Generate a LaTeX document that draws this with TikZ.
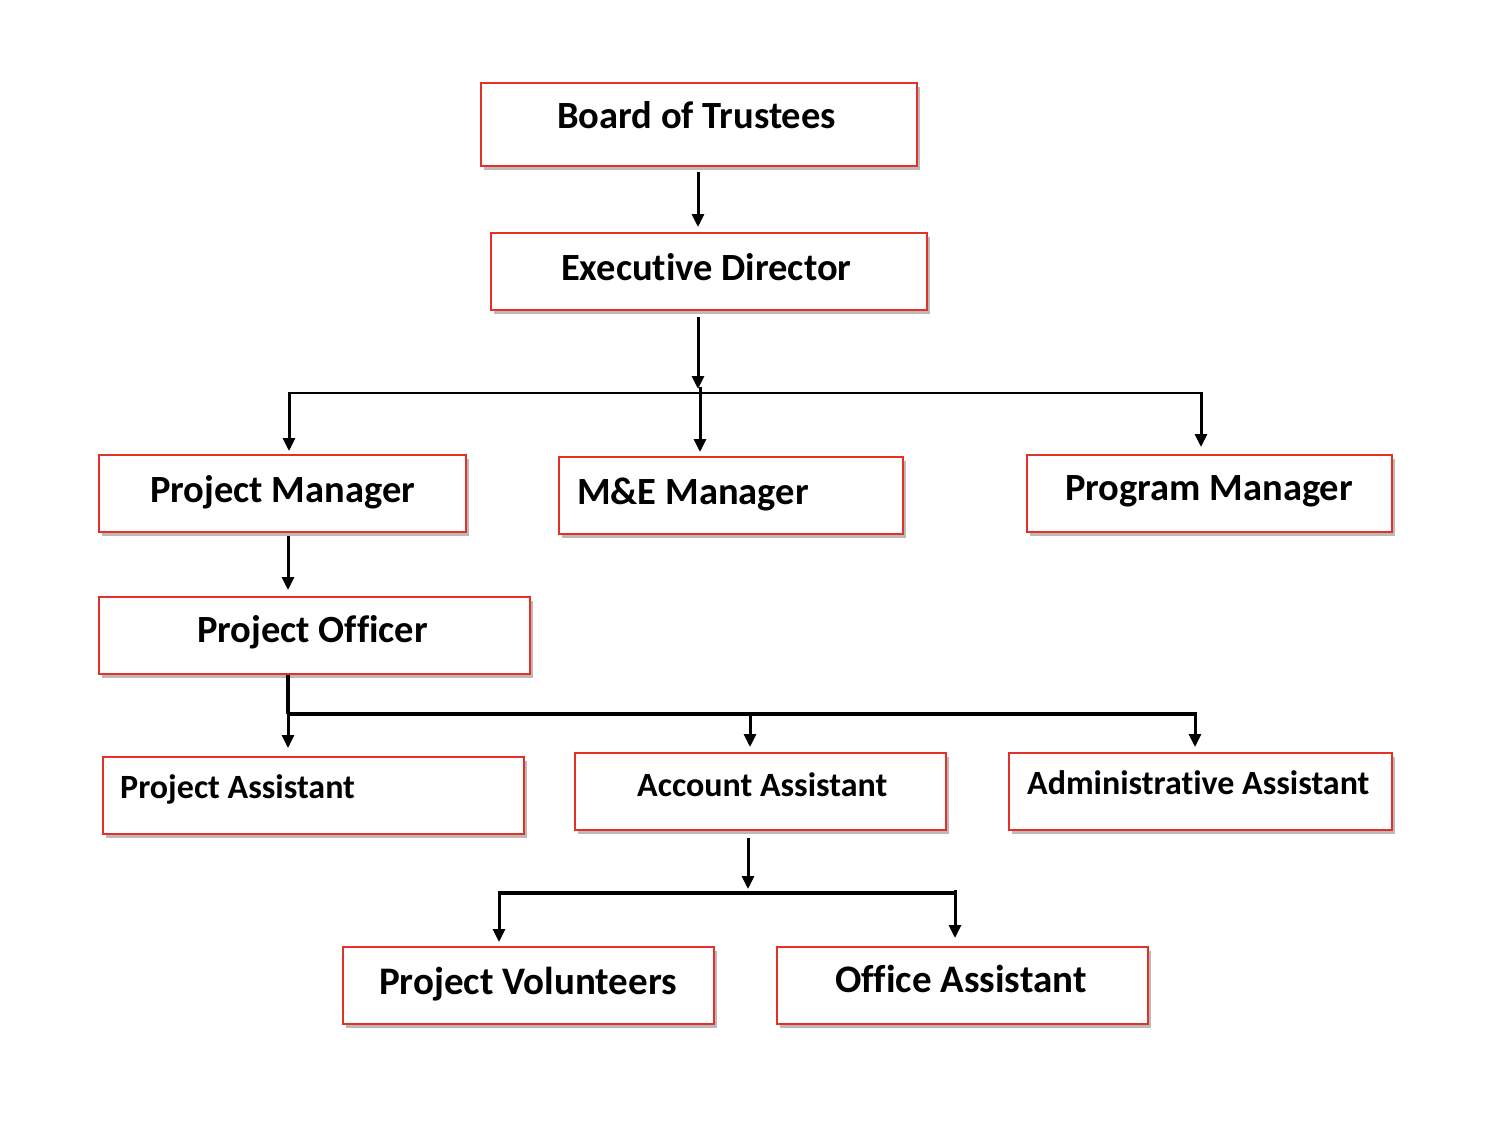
\documentclass[tikz,border=0pt]{standalone}
\usepackage{fontspec}
\setmainfont[Ligatures=NoCommon]{Carlito}
\usetikzlibrary{arrows.meta,shadows}
\definecolor{boxred}{RGB}{228,48,38}
\tikzset{
  box/.style={draw=boxred, line width=2pt, fill=white, inner sep=0pt,
    drop shadow={shadow xshift=3pt, shadow yshift=-4pt, fill=black!60, opacity=0.45}},
  txt/.style={inner sep=0pt, anchor=base west},
  big/.style={txt, font=\bfseries\fontsize{38.5}{44}\selectfont},
  small/.style={txt, font=\bfseries\fontsize{34}{40}\selectfont},
  ln/.style={line width=2.3pt, black},
  lnb/.style={line width=3.5pt, black},
  arr/.style={line width=3pt, black, -{Triangle[length=13pt,width=12pt]}},
}
\newcommand{\bx}[6]{% name, x1, y1, x2, y2
  \node[box, minimum width={(#4-#2)*1pt}, minimum height={(#5-#3)*1pt}] (#1) at ({(#2+#4)/2},{(#3+#5)/2}) {};}
\begin{document}
\begin{tikzpicture}[x=1pt,y=-1pt]
\useasboundingbox (0,0) rectangle (1488,1138);
\fill[white] (0,0) rectangle (1488,1138);
% boxes
\bx{bot}{481}{83}{917}{166}{}
\bx{exec}{491}{233}{927}{310}{}
\bx{pm}{99}{455}{466}{532}{}
\bx{me}{559}{457}{903}{534}{}
\bx{prog}{1027}{455}{1392}{532}{}
\bx{po}{99}{597}{530}{674}{}
\bx{pa}{103}{757}{524}{834}{}
\bx{aa}{575}{753}{946}{830}{}
\bx{adm}{1009}{753}{1392}{830}{}
\bx{pv}{343}{947}{714}{1024}{}
\bx{oa}{777}{947}{1148}{1024}{}
% texts
\node[big] (tbot) at (557,128) {Board of Trustees};
\node[big] (texec) at (561,280) {Executive Director};
\node[big] (tpm) at (150,502) {Project Manager};
\node[big] (tme) at (577,504) {M\&E Manager};
\node[big] (tprog) at (1065,500) {Program Manager};
\node[big] (tpo) at (197,642) {Project Officer};
\node[small] (tpa) at (120,798) {Project Assistant};
\node[small] (taa) at (637,796) {Account Assistant};
\node[small] (tadm) at (1027,794) {Administrative Assistant};
\node[txt, font=\bfseries\fontsize{39}{44}\selectfont] (tpv) at (379,994) {Project Volunteers};
\node[txt, font=\bfseries\fontsize{39}{44}\selectfont] (toa) at (835,992) {Office Assistant};
% junction coordinates
\coordinate (c0) at (698,0);
\coordinate (j1) at (698,393);
\coordinate (b1l) at (289,393);
\coordinate (b1m) at (700,393);
\coordinate (b1r) at (1201,393);
\coordinate (c2) at (288,0);
\coordinate (j2) at (288,714);
\coordinate (b2m) at (750,714);
\coordinate (b2r) at (1195,714);
\coordinate (j3) at (748,893);
\coordinate (b3l) at (499,893);
\coordinate (b3r) at (955,893);
% connectors
\draw[arr, shorten <=5pt, shorten >=5pt] (bot.south -| c0) -- (exec.north -| c0);
\draw[arr, shorten <=6pt, shorten >=4pt] (exec.south -| j1) -- (j1);
\draw[ln] ([xshift=-1.5pt]b1l) -- ([xshift=1.5pt]b1r);
\draw[arr, shorten >=3pt] (b1l) -- (pm.north -| b1l);
\draw[arr, shorten >=4pt] ([yshift=6pt]b1m) -- (me.north -| b1m);
\draw[arr, shorten >=7pt] ([yshift=1pt]b1r) -- (pm.north -| b1r);
\draw[arr, shorten <=3pt, shorten >=6pt] (pm.south -| c2) -- (po.north -| c2);
\draw[lnb] (po.south -| j2) -- (j2);
\draw[lnb] ([xshift=-1.5pt]j2) -- ([xshift=1.5pt]b2r);
\draw[arr, shorten >=8pt] (j2) -- (pa.north -| j2);
\draw[arr, shorten >=5pt] (b2m) -- (aa.north -| b2m);
\draw[arr, shorten >=5pt] (b2r) -- (adm.north -| b2r);
\draw[arr, shorten <=7pt, shorten >=4pt] (aa.south -| j3) -- (j3);
\draw[lnb] ([xshift=-1.5pt]b3l) -- ([xshift=1.5pt]b3r);
\draw[arr, shorten >=4pt] (b3l) -- (pv.north -| b3l);
\draw[arr, shorten >=8pt] ([yshift=3pt]b3r) -- (oa.north -| b3r);
\end{tikzpicture}
\end{document}
